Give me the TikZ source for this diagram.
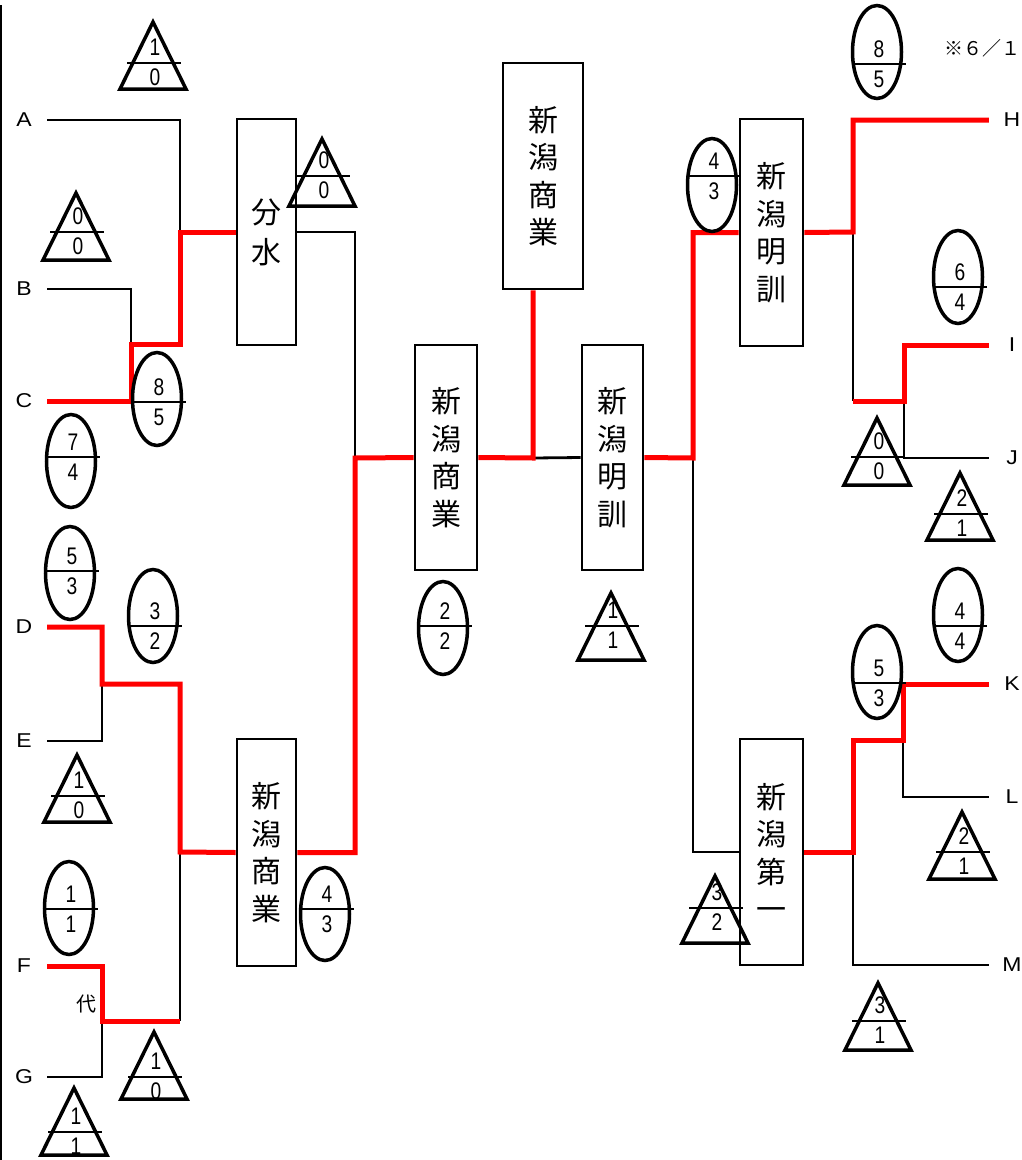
\documentclass[tikz,border=0pt]{standalone}
\usepackage{fontspec}
\setmainfont{Liberation Sans}
\newfontfamily\jpfont{Noto Sans CJK JP}
\newfontfamily\numfont[FakeStretch=0.8]{Liberation Sans}
\newfontfamily\lblfont[FakeStretch=1.15]{Liberation Sans}

\begin{document}
\begin{tikzpicture}[x=1pt,y=-1pt,
    lbl/.style={font=\lblfont\fontsize{20}{24}\selectfont, inner sep=0pt, minimum width=46pt},
    team/.style={draw, line width=2.8pt, inner sep=0pt, align=center,
        font=\jpfont\fontsize{30}{37.5}\selectfont},
    num/.style={font=\numfont\fontsize{24}{24}\selectfont, inner sep=0pt},
    bk/.style={line width=2.8pt},
    win/.style={line width=5pt, red},
    ring/.style={line width=3.5pt}]
    \useasboundingbox (0,0) rectangle (1021,1160);
    \draw[line width=2pt] (1,5) -- (1,1160);

    % Schulen
    \foreach \n/\y in {A/120, B/289, C/401, D/627, E/741, F/966, G/1077} {
        \node[lbl] (\n) at (24,\y) {\n};
    }
    \foreach \n/\y in {H/120, I/345, J/458, K/684, L/797, M/965} {
        \node[lbl] (\n) at (1012,\y) {\n};
    }
    \node[font=\jpfont\fontsize{20}{24}\selectfont, inner sep=0pt] (dai) at (86,1004) {代};
    \node[font=\jpfont\fontsize{19}{24}\selectfont, inner sep=0pt, anchor=west] (note) at (944,48) {※６／１};

    % Sieger
    \node[team, minimum width=59pt, minimum height=226pt] (bunsui) at (266.5,232) {分\\[2.5pt]水};
    \node[team, minimum width=59pt, minimum height=227pt] (shogyoA) at (266.5,852.5) {新\\潟\\商\\業};
    \node[team, minimum width=62pt, minimum height=225pt] (shogyoB) at (446,457.5) {新\\潟\\商\\業};
    \node[team, minimum width=80pt, minimum height=226pt] (champ) at (543,176) {新\\潟\\商\\業};
    \node[team, minimum width=61pt, minimum height=225pt] (meikunB) at (612.5,457.5) {新\\潟\\明\\訓};
    \node[team, minimum width=63pt, minimum height=227pt] (meikunA) at (771.5,232.5) {新\\潟\\明\\訓};
    \node[team, minimum width=63pt, minimum height=226pt] (daiichi) at (771.5,852) {新\\潟\\第\\一};

    % Knoten
    \coordinate (q1) at (180,232);
    \coordinate (q2) at (131,344);
    \coordinate (q3) at (355,458);
    \coordinate (q4) at (102,684);
    \coordinate (q5) at (180,852);
    \coordinate (q6) at (102,1021);
    \coordinate (q7) at (180,1021);
    \coordinate (q8) at (533,458);
    \coordinate (q9) at (693,458);
    \coordinate (q10) at (853,232);
    \coordinate (q11) at (853,401);
    \coordinate (q12) at (904,401);
    \coordinate (q13) at (853,852);
    \coordinate (q14) at (903,740);

    % Linien
    \draw[bk] (A.east) -| (q1);
    \draw[bk] (B.east) -| (q2);
    \draw[bk] (bunsui.east) -| (q3);
    \draw[bk] (E.east) -| (q4);
    \draw[bk] (G.east) -| (q6);
    \draw[bk] (q7) -- (q5);
    \draw[bk] (q8) -- (meikunB.west);
    \draw[bk] (q9) |- (daiichi.west);
    \draw[bk] (q10) -- (q11);
    \draw[bk] (q12) |- (J.west);
    \draw[bk] (q14) |- (L.west);
    \draw[bk] (q13) |- (M.west);

    \draw[win] (C.east) -| (q2) -| (q1) -- (bunsui.west);
    \draw[win] (D.east) -| (q4) -| (q5) -- (shogyoA.west);
    \draw[win] (F.east) -| (q6) -- (q7);
    \draw[win] (shogyoA.east) -| (q3) -- (shogyoB.west);
    \draw[win] (shogyoB.east) -- (q8) -- (q8 |- champ.south);
    \draw[win] (meikunB.east) -- (q9) |- (meikunA.west);
    \draw[win] (meikunA.east) -- (q10) |- (H.west);
    \draw[win] (q11) -- (q12) |- (I.west);
    \draw[win] (daiichi.east) -- (q13) |- (q14) |- (K.west);

    % Dreiecke
    \foreach \x/\a/\d/\t/\b [count=\i] in {
        153/22/63/1/0, 76/193/232/0/0, 322/139/176/0/0, 77/755/796/1/0,
        154/1032/1077/1/0, 74/1088/1132/1/1, 877/418/457/0/0, 960/473/514/2/1,
        962/812/852/2/1, 715/876/908/3/2, 878/983/1021/3/1, 611/593/626/1/1} {
        \draw[ring] (\x,\a) -- (\x+33,\a+67) -- (\x-33,\a+67) -- cycle;
        \draw[bk] (\x-26,\d) -- (\x+28,\d);
        \node[num] (tri\i t) at (\x+2,\d-16) {\t};
        \node[num] (tri\i b) at (\x+2,\d+14) {\b};
    }

    % Ovale
    \foreach \x/\y/\d/\t/\b [count=\i] in {
        157/399/402/8/5, 71/461/457/7/4, 70/573/571/5/3, 153/616/626/3/2,
        69/908/909/1/1, 325/914/909/4/3, 877/52/64/8/5, 712/185/176/4/3,
        958/277/287/6/4, 958/615/626/4/4, 877/672/683/5/3, 443/628/626/2/2} {
        \draw[ring] (\x,\y) ellipse [x radius=24.5pt, y radius=46.5pt];
        \draw[bk] (\x-24,\d) -- (\x+29,\d);
        \node[num] (ovl\i t) at (\x+2,\d-15) {\t};
        \node[num] (ovl\i b) at (\x+2,\d+15) {\b};
    }
\end{tikzpicture}
\end{document}
